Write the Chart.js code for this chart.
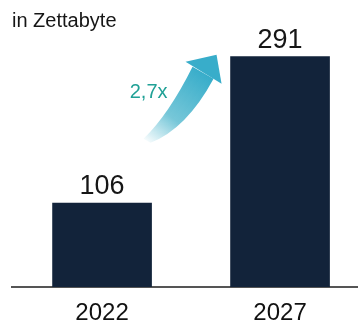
<!DOCTYPE html>
<html>
<head>
<meta charset="utf-8">
<script src="https://cdn.jsdelivr.net/npm/chart.js@4.4.1/dist/chart.umd.min.js"></script>
<style>
  html, body { margin: 0; padding: 0; background: #fff; }
  #wrap { width: 358px; height: 325px; }
</style>
</head>
<body>
<div id="wrap"><canvas id="chart" width="358" height="325"></canvas></div>
<script>
// Data
const years = ['2022', '2027'];
const volumes = [106, 291];
const unitLabel = 'in Zettabyte';
const growthLabel = '2,7x';

const FONT = '"Liberation Sans", Arial, sans-serif';
const BAR_COLOR = '#12233a';

// Unit label top-left, value labels, growth arrow
const annotations = {
    id: 'annotations',
    afterDatasetsDraw(chart) {
        const ctx = chart.ctx;
        const bars = chart.getDatasetMeta(0).data;
        ctx.save();

        ctx.fillStyle = '#161616';
        ctx.font = '20px ' + FONT;
        ctx.textAlign = 'left';
        ctx.textBaseline = 'alphabetic';
        ctx.fillText(unitLabel, 12, 27);

        ctx.font = '27px ' + FONT;
        ctx.textAlign = 'center';
        bars.forEach((bar, i) => {
            ctx.fillText(String(volumes[i]), bar.x, bar.y - 9);
        });

        // arrow anchored to the left top corner of the second bar
        const b2 = bars[1];
        const ox = b2.x - b2.width / 2;
        const oy = b2.y;
        const p = (dx, dy) => [ox + dx, oy + dy];

        const grad = ctx.createLinearGradient(...p(-86, 86), ...p(-30, 14));
        grad.addColorStop(0, 'rgba(70, 180, 205, 0)');
        grad.addColorStop(0.4, 'rgba(60, 175, 200, 0.7)');
        grad.addColorStop(1, '#38adca');
        ctx.fillStyle = grad;

        ctx.beginPath();
        ctx.moveTo(...p(-38, 10));
        ctx.quadraticCurveTo(...p(-62, 58), ...p(-87, 82));
        ctx.lineTo(...p(-80, 86));
        ctx.quadraticCurveTo(...p(-44, 72), ...p(-17, 22));
        ctx.closePath();
        ctx.fill();

        ctx.fillStyle = '#38adca';
        ctx.beginPath();
        ctx.moveTo(...p(-45, 5));
        ctx.lineTo(...p(-14, -2));
        ctx.lineTo(...p(-9, 27));
        ctx.closePath();
        ctx.fill();

        ctx.fillStyle = '#20a196';
        ctx.font = '20px ' + FONT;
        ctx.textAlign = 'right';
        ctx.fillText(growthLabel, ox - 63, oy + 41);

        ctx.restore();
    }
};

new Chart(document.getElementById('chart'), {
    type: 'bar',
    data: {
        datasets: [{
            data: years.map((y, i) => ({ x: i, y: volumes[i] })),
            backgroundColor: BAR_COLOR,
            borderWidth: 0,
            barThickness: 99
        }]
    },
    options: {
        responsive: false,
        animation: false,
        events: [],
        layout: { padding: { top: 10, left: 12, right: 0, bottom: 0 } },
        plugins: {
            legend: { display: false },
            tooltip: { enabled: false }
        },
        scales: {
            x: {
                type: 'linear',
                offset: false,
                min: -0.506,
                max: 1.438,
                grid: { display: false, drawTicks: false },
                border: { display: true, color: '#555', width: 2 },
                afterBuildTicks: s => { s.ticks = years.map((_, i) => ({ value: i })); },
                afterFit: s => { s.height = 38; },
                ticks: {
                    padding: 12,
                    color: '#111',
                    font: { family: FONT, size: 24 },
                    callback: v => years[v]
                }
            },
            y: {
                display: false,
                min: 0,
                max: 350
            }
        }
    },
    plugins: [annotations]
});
</script>
</body>
</html>
